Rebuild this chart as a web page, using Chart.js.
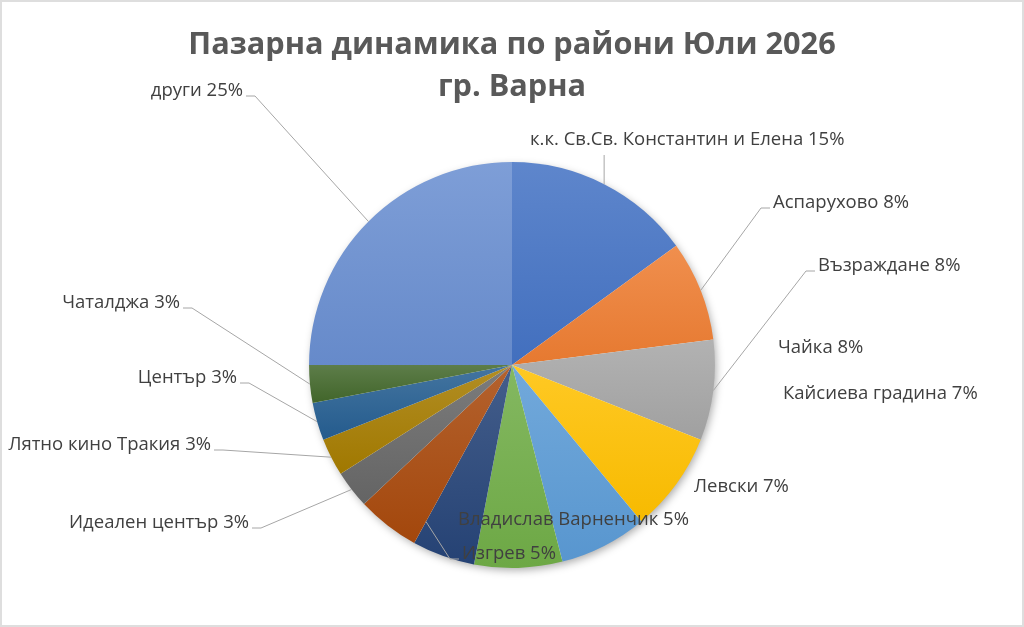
<!DOCTYPE html>
<html>
<head>
<meta charset="utf-8">
<script src="https://cdn.jsdelivr.net/npm/chart.js@4.4.1/dist/chart.umd.min.js"></script>
<style>
  html, body { margin: 0; padding: 0; background: #fff; }
  #wrap { position: relative; width: 1024px; height: 627px; }
  #frame { position: absolute; inset: 0; border: 2px solid #dedede; box-sizing: border-box; pointer-events: none; }
</style>
</head>
<body>
<div id="wrap"><canvas id="chart"></canvas><div id="frame"></div></div>
<script>
const districts = [
  'к.к. Св.Св. Константин и Елена', 'Аспарухово', 'Възраждане', 'Чайка',
  'Кайсиева градина', 'Левски', 'Владислав Варненчик', 'Изгрев',
  'Идеален център', 'Лятно кино Тракия', 'Център', 'Чаталджа', 'други'
];
const shares = [15, 8, 8, 8, 7, 7, 5, 5, 3, 3, 3, 3, 25];
const sliceColors = [
  '#4472C4', '#ED7D31', '#A5A5A5', '#FFC000', '#5B9BD5', '#70AD47',
  '#264478', '#A8490C', '#676767', '#A57C00', '#255E91', '#43682B', '#698ED0'
];

// where each label sits: [x, middle y, text align, leader side]
// leader side: 'B' = straight down from the text, 'L' / 'R' = from that end of the text
const labelLayout = [
  [530, 140, 'left', 'B'],
  [773, 203, 'left', 'L'],
  [818, 266, 'left', 'L'],
  [778, 348, 'left', null],
  [783, 394, 'left', null],
  [694, 487, 'left', null],
  [458, 520, 'left', null],
  [462, 554, 'left', 'L'],
  [249, 523, 'right', 'R'],
  [211, 445, 'right', 'R'],
  [237, 378, 'right', 'R'],
  [180, 303, 'right', 'R'],
  [243, 91, 'right', 'R']
];
// leader tip on the slice: [fraction along arc, fraction of radius]
const tipOverride = { 7: [0, 0.88] };

function mix(hex, other, t) {
  const n = parseInt(hex.slice(1), 16);
  const c = [(n >> 16) & 255, (n >> 8) & 255, n & 255];
  return 'rgb(' + c.map(v => Math.round(v + (other - v) * t)).join(',') + ')';
}

function sliceFill(ctx) {
  const chart = ctx.chart;
  const area = chart.chartArea;
  const i = ctx.dataIndex;
  const base = sliceColors[i];
  if (!area || i === undefined) return base;
  const cx = (area.left + area.right) / 2;
  const cy = (area.top + area.bottom) / 2;
  const r = Math.min(area.right - area.left, area.bottom - area.top) / 2;
  const total = shares.reduce((a, b) => a + b, 0);
  let before = 0;
  for (let k = 0; k < i; k++) before += shares[k];
  const a0 = -Math.PI / 2 + before / total * 2 * Math.PI;
  const a1 = a0 + shares[i] / total * 2 * Math.PI;
  const ys = [cy, cy + r * Math.sin(a0), cy + r * Math.sin(a1)];
  const hits = t => [-1, 0, 1, 2].some(k => {
    const v = t + 2 * Math.PI * k;
    return v >= a0 && v <= a1;
  });
  if (hits(-Math.PI / 2)) ys.push(cy - r);
  if (hits(Math.PI / 2)) ys.push(cy + r);
  const g = chart.ctx.createLinearGradient(0, Math.min(...ys), 0, Math.max(...ys));
  g.addColorStop(0, mix(base, 255, 0.14));
  g.addColorStop(1, mix(base, 0, 0.03));
  return g;
}

const pieShadow = {
  id: 'pieShadow',
  beforeDatasetsDraw(chart) {
    const arc = chart.getDatasetMeta(0).data[0];
    if (!arc) return;
    const c = chart.ctx;
    c.save();
    c.shadowColor = 'rgba(0,0,0,0.35)';
    c.shadowBlur = 9;
    c.shadowOffsetX = 2;
    c.shadowOffsetY = 3;
    c.fillStyle = '#fff';
    c.beginPath();
    c.arc(arc.x, arc.y, arc.outerRadius - 1, 0, Math.PI * 2);
    c.fill();
    c.restore();
  }
};

const sliceLabels = {
  id: 'sliceLabels',
  afterDatasetsDraw(chart) {
    const c = chart.ctx;
    const arcs = chart.getDatasetMeta(0).data;
    c.save();
    c.font = '18.5px "Open Sans"';
    c.textBaseline = 'middle';
    arcs.forEach((arc, i) => {
      const [x, y, align, side] = labelLayout[i];
      const text = districts[i] + ' ' + shares[i] + '%';
      const w = c.measureText(text).width;
      c.fillStyle = '#404040';
      c.textAlign = align;
      c.fillText(text, x, y);
      if (!side) return;
      const [f, rf] = tipOverride[i] || [0.5, 1];
      const a = arc.startAngle + (arc.endAngle - arc.startAngle) * f;
      const tx = arc.x + Math.cos(a) * arc.outerRadius * rf;
      const ty = arc.y + Math.sin(a) * arc.outerRadius * rf;
      const left = align === 'left' ? x : x - w;
      const right = left + w;
      c.strokeStyle = '#a6a6a6';
      c.lineWidth = 1;
      c.beginPath();
      if (side === 'B') {
        c.moveTo(tx, y + 15);
      } else if (side === 'L') {
        c.moveTo(left - 3, y + 5);
        c.lineTo(left - 12, y + 5);
      } else {
        c.moveTo(right + 3, y + 5);
        c.lineTo(right + 12, y + 5);
      }
      c.lineTo(tx, ty);
      c.stroke();
    });
    c.restore();
  }
};

new Chart(document.getElementById('chart'), {
  type: 'pie',
  data: {
    labels: districts,
    datasets: [{
      data: shares,
      backgroundColor: sliceFill,
      borderWidth: 0
    }]
  },
  options: {
    responsive: true,
    maintainAspectRatio: false,
    animation: false,
    events: [],
    layout: { padding: { top: 0, bottom: 59, left: 0, right: 0 } },
    plugins: {
      legend: { display: false },
      tooltip: { enabled: false },
      title: {
        display: true,
        text: ['Пазарна динамика по райони Юли 2026', 'гр. Варна'],
        color: '#595959',
        font: { family: '"Open Sans"', size: 30.7, weight: 'bold', lineHeight: 1.37 },
        padding: { top: 24, bottom: 54 }
      }
    }
  },
  plugins: [pieShadow, sliceLabels]
});
</script>
</body>
</html>
